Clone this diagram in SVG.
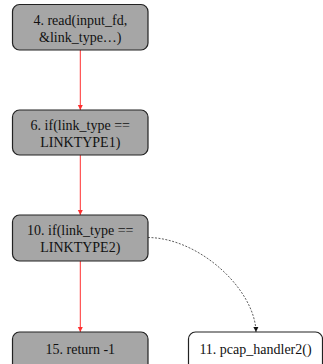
<svg xmlns="http://www.w3.org/2000/svg" width="323" height="364" viewBox="0 0 323 364">
<style>
.n{fill:#a6a6a6;stroke:#222;stroke-width:1.2}
.w{fill:#fff;stroke:#222;stroke-width:1.2}
text{font-family:"Liberation Serif","Times New Roman",serif;font-size:14px;fill:#111;text-anchor:middle}
.r{stroke:#ff3030;stroke-width:1;fill:none}
.d{stroke:#333;stroke-width:0.8;fill:none;stroke-dasharray:2,1.5}
</style>
<defs>
<marker id="ar" markerWidth="6" markerHeight="6" refX="5" refY="3" orient="auto" markerUnits="userSpaceOnUse">
<path d="M0,0.5 L5,3 L0,5.5 Z" fill="#ff3030"/>
</marker>
<marker id="ak" markerWidth="6" markerHeight="6" refX="5" refY="3" orient="auto" markerUnits="userSpaceOnUse">
<path d="M0,0.5 L5,3 L0,5.5 Z" fill="#111"/>
</marker>
</defs>
<g id="edges">
<line class="r" x1="80.3" y1="50" x2="80.3" y2="110" marker-end="url(#ar)"/>
<line class="r" x1="80.3" y1="155" x2="80.3" y2="215" marker-end="url(#ar)"/>
<line class="r" x1="80.3" y1="261" x2="80.3" y2="332" marker-end="url(#ar)"/>
<path class="d" d="M148,237.5 C200,238 255,290 256,332" marker-end="url(#ak)"/>
</g>
<g id="n4">
<rect class="n" x="12.5" y="4.5" width="135.5" height="45.5" rx="7"/>
<text x="80.3" y="25">4. read(input_fd,</text>
<text x="80.3" y="42">&amp;link_type…)</text>
</g>
<g id="n6">
<rect class="n" x="12.5" y="110" width="135.5" height="45" rx="7"/>
<text x="80.3" y="129.5">6. if(link_type ==</text>
<text x="80.3" y="146.5">LINKTYPE1)</text>
</g>
<g id="n10">
<rect class="n" x="12.5" y="215" width="135.5" height="46" rx="7"/>
<text x="80.3" y="234.5">10. if(link_type ==</text>
<text x="80.3" y="251.5">LINKTYPE2)</text>
</g>
<g id="n15">
<rect class="n" x="12.5" y="332" width="135.5" height="40" rx="7"/>
<text x="80.3" y="354">15. return -1</text>
</g>
<g id="n11">
<rect class="w" x="188.5" y="332" width="134" height="40" rx="7"/>
<text x="255.5" y="354">11. pcap_handler2()</text>
</g>
</svg>
